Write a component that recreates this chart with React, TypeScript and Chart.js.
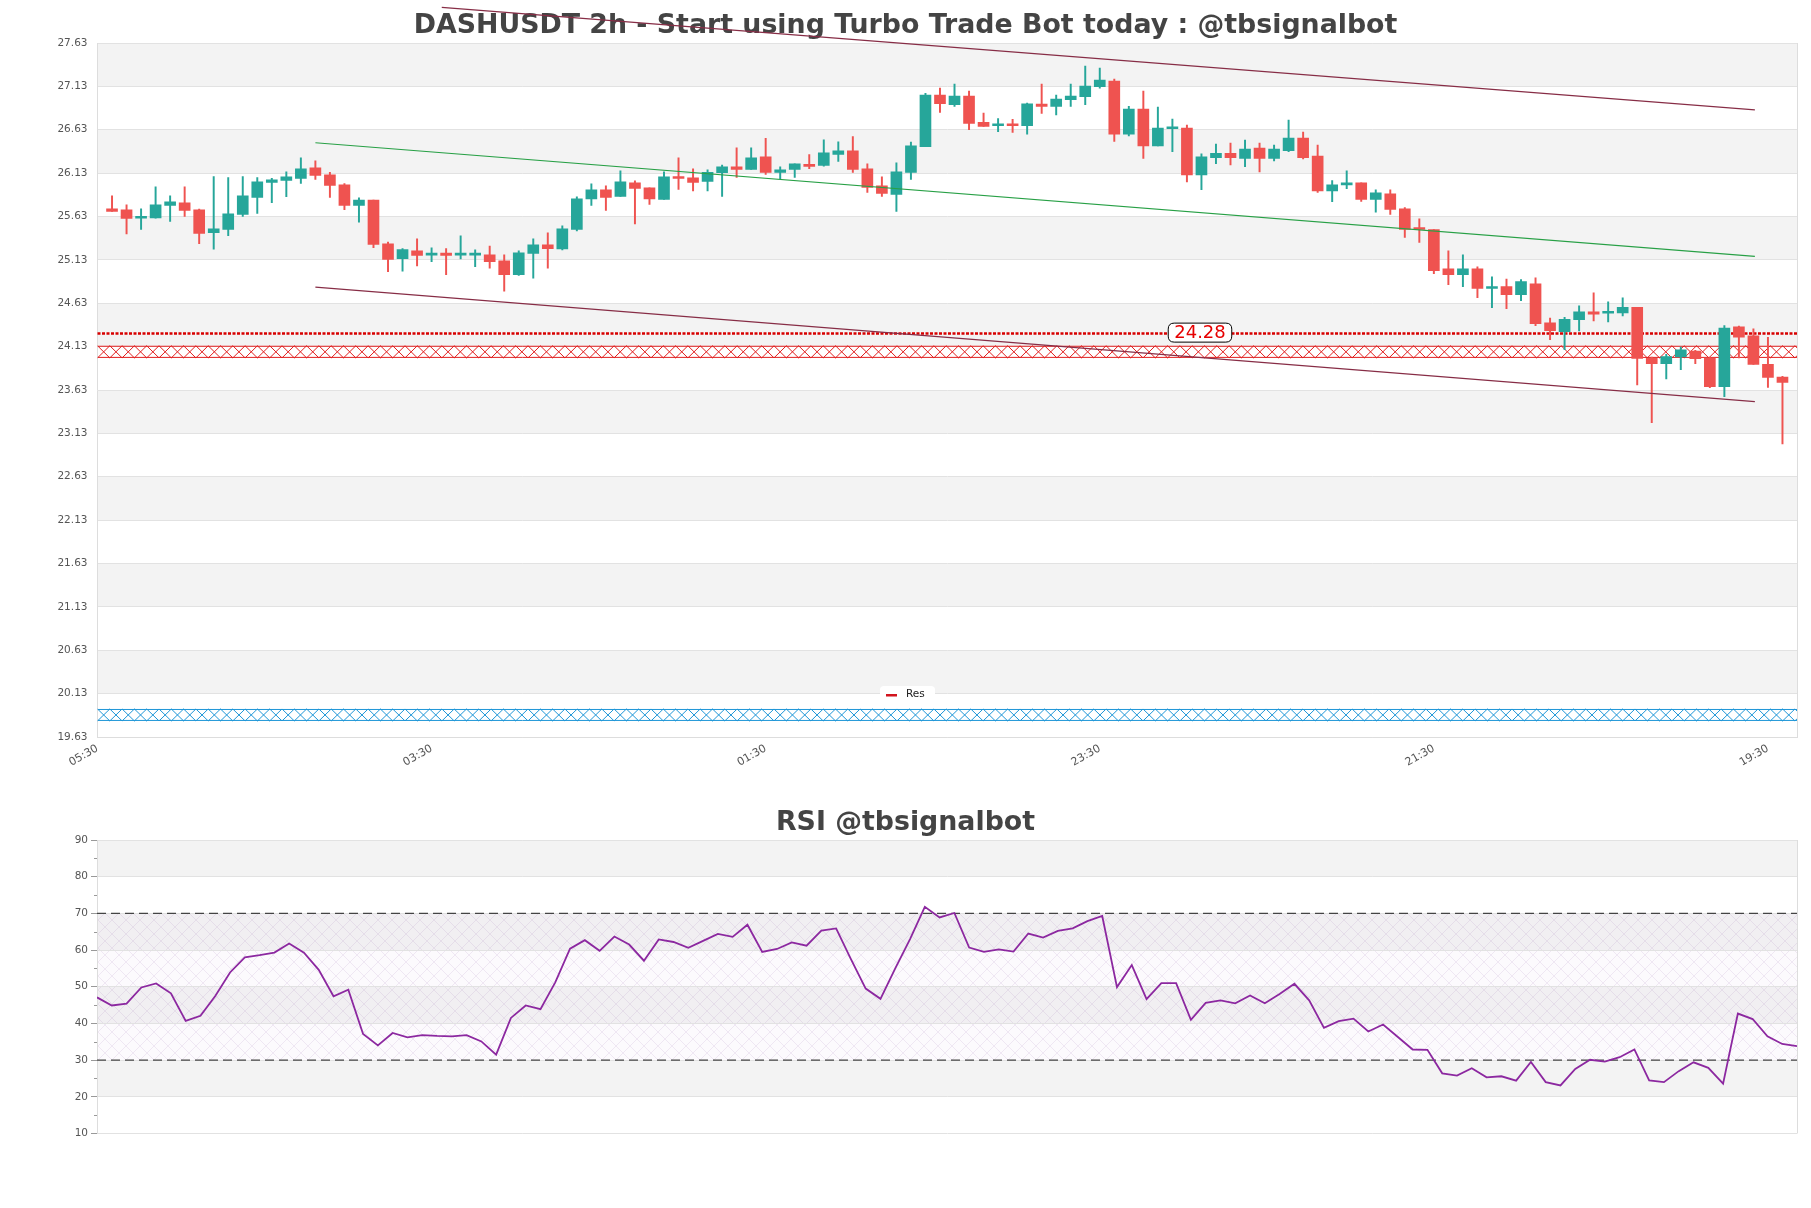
import React, { useEffect, useRef } from "react";
import { Chart, registerables } from "chart.js";

Chart.register(...registerables);

// ---------------- DATA ----------------
const chartTitle = "DASHUSDT 2h - Start using Turbo Trade Bot today : @tbsignalbot";
const rsiTitle = "RSI @tbsignalbot";

const xTickIndices = [0, 23, 46, 69, 92, 115];
const xTickLabels = ["05:30", "03:30", "01:30", "23:30", "21:30", "19:30"];

const yTickValues = [19.63, 20.13, 20.63, 21.13, 21.63, 22.13, 22.63, 23.13, 23.63, 24.13, 24.63, 25.13, 25.63, 26.13, 26.63, 27.13, 27.63];
const rsiTickValues = [10, 20, 30, 40, 50, 60, 70, 80, 90];

const opens = [
  25.718, 25.707, 25.61, 25.615, 25.757, 25.788, 25.707, 25.445, 25.48, 25.653,
  25.849, 26.022, 26.045, 26.068, 26.19, 26.11, 25.995, 25.757, 25.82, 25.315,
  25.145, 25.234, 25.184, 25.207, 25.184, 25.184, 25.188, 25.118, 24.96, 25.203,
  25.303, 25.257, 25.48, 25.834, 25.938, 25.861, 26.018, 25.96, 25.826, 26.088,
  26.076, 26.034, 26.134, 26.203, 26.172, 26.318, 26.138, 26.172, 26.226, 26.218,
  26.345, 26.388, 26.18, 25.984, 25.884, 26.138, 26.434, 27.03, 26.918, 27.018,
  26.715, 26.676, 26.692, 26.676, 26.926, 26.9, 26.976, 27.01, 27.126, 27.19,
  26.58, 26.868, 26.445, 26.642, 26.65, 26.11, 26.307, 26.357, 26.3, 26.418,
  26.3, 26.388, 26.534, 26.326, 25.926, 25.995, 26.018, 25.826, 25.892, 25.718,
  25.499, 25.48, 25.026, 24.96, 25.026, 24.8, 24.822, 24.73, 24.853, 24.403,
  24.303, 24.442, 24.53, 24.515, 24.518, 24.584, 23.995, 23.934, 24.011, 24.08,
  23.999, 23.668, 24.357, 24.253, 23.926, 23.78,
];
const highs = [
  25.868, 25.765, 25.718, 25.972, 25.868, 25.972, 25.715, 26.09, 26.08, 26.09,
  26.08, 26.07, 26.145, 26.307, 26.272, 26.14, 26.01, 25.845, 25.82, 25.334,
  25.26, 25.372, 25.268, 25.26, 25.407, 25.245, 25.288, 25.188, 25.234, 25.372,
  25.442, 25.522, 25.857, 26.007, 25.984, 26.157, 26.042, 25.96, 26.145, 26.307,
  26.18, 26.168, 26.222, 26.422, 26.422, 26.53, 26.203, 26.238, 26.345, 26.515,
  26.49, 26.55, 26.238, 26.088, 26.25, 26.488, 27.049, 27.11, 27.157, 27.076,
  26.822, 26.76, 26.749, 26.938, 27.157, 27.03, 27.157, 27.365, 27.34, 27.215,
  26.9, 27.076, 26.892, 26.753, 26.684, 26.353, 26.465, 26.476, 26.51, 26.476,
  26.453, 26.742, 26.603, 26.453, 26.045, 26.157, 26.018, 25.938, 25.938, 25.734,
  25.603, 25.48, 25.234, 25.188, 25.049, 24.934, 24.91, 24.903, 24.922, 24.46,
  24.468, 24.6, 24.749, 24.645, 24.692, 24.584, 24.01, 24.042, 24.126, 24.088,
  24.003, 24.372, 24.368, 24.334, 24.238, 23.788,
];
const lows = [
  25.688, 25.43, 25.48, 25.61, 25.572, 25.63, 25.318, 25.253, 25.41, 25.63,
  25.665, 25.79, 25.86, 26.01, 26.057, 25.85, 25.71, 25.565, 25.272, 24.995,
  25.0, 25.06, 25.11, 24.96, 25.14, 25.053, 25.034, 24.768, 24.95, 24.92,
  25.034, 25.245, 25.465, 25.757, 25.7, 25.861, 25.545, 25.768, 25.826, 25.942,
  25.926, 25.926, 25.861, 26.08, 26.172, 26.115, 26.065, 26.08, 26.18, 26.21,
  26.265, 26.138, 25.907, 25.861, 25.688, 26.057, 26.434, 26.83, 26.9, 26.63,
  26.668, 26.607, 26.6, 26.58, 26.818, 26.8, 26.9, 26.918, 27.11, 26.495,
  26.56, 26.3, 26.445, 26.376, 26.03, 25.938, 26.238, 26.226, 26.203, 26.145,
  26.272, 26.376, 26.295, 25.907, 25.8, 25.95, 25.803, 25.68, 25.653, 25.388,
  25.33, 24.972, 24.845, 24.822, 24.695, 24.58, 24.568, 24.66, 24.372, 24.21,
  24.095, 24.31, 24.426, 24.415, 24.484, 23.688, 23.253, 23.757, 23.865, 23.934,
  23.657, 23.553, 23.999, 23.926, 23.661, 23.008,
];
const closes = [
  25.688, 25.607, 25.626, 25.765, 25.8, 25.699, 25.434, 25.488, 25.66, 25.868,
  26.03, 26.053, 26.088, 26.18, 26.103, 25.988, 25.757, 25.82, 25.307, 25.134,
  25.249, 25.18, 25.2, 25.18, 25.19, 25.19, 25.11, 24.96, 25.21, 25.303,
  25.26, 25.488, 25.834, 25.938, 25.85, 26.03, 25.953, 25.834, 26.088, 26.068,
  26.022, 26.14, 26.203, 26.172, 26.307, 26.138, 26.168, 26.238, 26.207, 26.365,
  26.388, 26.172, 25.965, 25.895, 26.145, 26.445, 27.03, 26.93, 27.018, 26.703,
  26.668, 26.692, 26.676, 26.93, 26.9, 26.984, 27.018, 27.134, 27.203, 26.58,
  26.868, 26.445, 26.65, 26.65, 26.11, 26.318, 26.357, 26.307, 26.407, 26.3,
  26.407, 26.534, 26.307, 25.926, 25.995, 26.018, 25.826, 25.903, 25.711, 25.48,
  25.48, 25.007, 24.96, 25.026, 24.8, 24.818, 24.73, 24.88, 24.396, 24.315,
  24.445, 24.53, 24.503, 24.53, 24.584, 23.995, 23.934, 24.015, 24.092, 23.992,
  23.668, 24.345, 24.238, 23.926, 23.776, 23.718,
];

const rsiValues = [
  47.1, 44.9, 45.4, 49.8, 50.9, 48.2, 40.7, 42.1, 47.5, 53.9,
  58.0, 58.6, 59.3, 61.8, 59.3, 54.6, 47.4, 49.2, 37.1, 34.0,
  37.4, 36.2, 36.8, 36.6, 36.5, 36.8, 35.1, 31.5, 41.5, 44.9,
  43.9, 51.2, 60.4, 62.7, 59.8, 63.7, 61.5, 57.1, 62.9, 62.2,
  60.6, 62.5, 64.4, 63.6, 66.9, 59.5, 60.3, 62.1, 61.2, 65.3,
  65.9, 57.5, 49.5, 46.7, 55.0, 63.0, 71.8, 68.9, 70.1, 60.7,
  59.5, 60.2, 59.6, 64.5, 63.4, 65.2, 65.9, 67.9, 69.3, 49.9,
  55.9, 46.6, 51.0, 51.0, 41.0, 45.6, 46.3, 45.5, 47.6, 45.5,
  48.0, 50.8, 46.3, 38.8, 40.6, 41.3, 37.8, 39.7, 36.3, 32.9,
  32.8, 26.4, 25.8, 27.8, 25.3, 25.6, 24.4, 29.5, 24.0, 23.1,
  27.6, 30.1, 29.6, 30.8, 32.9, 24.5, 24.0, 27.0, 29.4, 27.9,
  23.6, 42.7, 41.2, 36.5, 34.4, 33.8,
];

const resistanceLevel = 24.28;
const resistanceZone = [24.0, 24.14];
const supportZone = [19.815, 19.953];
const upperChannel = [{ x: 23.7, y: 28.04 }, { x: 114.1, y: 26.86 }];
const midChannel = [{ x: 15.0, y: 26.48 }, { x: 114.1, y: 25.17 }];
const lowerChannel = [{ x: 15.0, y: 24.817 }, { x: 114.1, y: 23.495 }];
const legendLabel = "Res";

// ---------------- STYLE ----------------
const GREEN = "#26a69a";
const RED = "#ef5350";
const BAND = "#f3f3f3";
const GRID = "#e2e2e2";
const FONT = '"DejaVu Sans"';

Chart.defaults.font.family = FONT;

function drawZone(ctx: CanvasRenderingContext2D, left: number, right: number, yTop: number, yBot: number, color: string) {
  ctx.save();
  ctx.beginPath();
  ctx.rect(left, yTop - 1, right - left, yBot - yTop + 2);
  ctx.clip();
  ctx.strokeStyle = color;
  ctx.lineWidth = 1;
  ctx.beginPath();
  ctx.moveTo(left, yTop + 0.5);
  ctx.lineTo(right, yTop + 0.5);
  ctx.moveTo(left, yBot - 0.5);
  ctx.lineTo(right, yBot - 0.5);
  const w = 12.3;
  for (let x = left; x < right; x += w) {
    ctx.moveTo(x, yTop);
    ctx.lineTo(x + w, yBot);
    ctx.moveTo(x, yBot);
    ctx.lineTo(x + w, yTop);
  }
  ctx.stroke();
  ctx.restore();
}

function roundRect(ctx: CanvasRenderingContext2D, x: number, y: number, w: number, h: number, r: number) {
  ctx.beginPath();
  ctx.moveTo(x + r, y);
  ctx.lineTo(x + w - r, y);
  ctx.quadraticCurveTo(x + w, y, x + w, y + r);
  ctx.lineTo(x + w, y + h - r);
  ctx.quadraticCurveTo(x + w, y + h, x + w - r, y + h);
  ctx.lineTo(x + r, y + h);
  ctx.quadraticCurveTo(x, y + h, x, y + h - r);
  ctx.lineTo(x, y + r);
  ctx.quadraticCurveTo(x, y, x + r, y);
  ctx.closePath();
}

const mainDecor = {
  id: "mainDecor",
  beforeDraw(chart: any) {
    const { ctx, chartArea: a } = chart;
    const y = chart.scales.y;
    ctx.save();
    ctx.fillStyle = "#ffffff";
    ctx.fillRect(0, 0, chart.width, chart.height);
    for (let i = 0; i < yTickValues.length - 1; i++) {
      if (i % 2 === 1) {
        const top = y.getPixelForValue(yTickValues[i + 1]);
        const bot = y.getPixelForValue(yTickValues[i]);
        ctx.fillStyle = BAND;
        ctx.fillRect(a.left, top, a.right - a.left, bot - top);
      }
    }
    ctx.font = `bold 26.8px ${FONT}`;
    ctx.fillStyle = "#444444";
    ctx.textAlign = "center";
    ctx.textBaseline = "alphabetic";
    ctx.fillText(chartTitle, chart.width / 2, 32.5);
    ctx.restore();
  },
  beforeDatasetsDraw(chart: any) {
    const { ctx, chartArea: a } = chart;
    const y = chart.scales.y;
    ctx.save();
    ctx.strokeStyle = "#dddddd";
    ctx.lineWidth = 1;
    ctx.beginPath();
    ctx.moveTo(a.right + 0.5, a.top);
    ctx.lineTo(a.right + 0.5, a.bottom);
    ctx.stroke();
    drawZone(ctx, a.left, a.right, y.getPixelForValue(resistanceZone[1]), y.getPixelForValue(resistanceZone[0]), "rgb(225,30,30)");
    drawZone(ctx, a.left, a.right, y.getPixelForValue(supportZone[1]), y.getPixelForValue(supportZone[0]), "rgb(30,150,215)");
    const ry = y.getPixelForValue(resistanceLevel);
    ctx.strokeStyle = "rgb(215,0,0)";
    ctx.lineWidth = 2.5;
    ctx.setLineDash([3, 1.5]);
    ctx.beginPath();
    ctx.moveTo(a.left, ry);
    ctx.lineTo(a.right, ry);
    ctx.stroke();
    ctx.restore();
  },
  afterDatasetsDraw(chart: any) {
    const { ctx } = chart;
    const y = chart.scales.y;
    const x = chart.scales.x;
    ctx.save();
    const ry = y.getPixelForValue(resistanceLevel);
    const cx = x.getPixelForValue(75.9);
    const txt = resistanceLevel.toFixed(2);
    ctx.font = `18px ${FONT}`;
    const tw = ctx.measureText(txt).width;
    const bw = tw + 12;
    const bh = 19;
    roundRect(ctx, cx - bw / 2, ry - bh / 2 - 1, bw, bh, 6);
    ctx.fillStyle = "#ffffff";
    ctx.fill();
    ctx.strokeStyle = "#000000";
    ctx.lineWidth = 1;
    ctx.stroke();
    ctx.fillStyle = "rgb(230,0,0)";
    ctx.textAlign = "center";
    ctx.textBaseline = "middle";
    ctx.fillText(txt, cx, ry);
    const lx = 880, ly = 686;
    roundRect(ctx, lx, ly, 55, 16, 4);
    ctx.fillStyle = "#ffffff";
    ctx.fill();
    ctx.fillStyle = "rgb(210,20,30)";
    ctx.fillRect(lx + 6, ly + 8, 11, 2.5);
    ctx.font = `10.5px ${FONT}`;
    ctx.fillStyle = "#222222";
    ctx.textAlign = "left";
    ctx.textBaseline = "middle";
    ctx.fillText(legendLabel, lx + 26, ly + 8.5);
    ctx.restore();
  },
};

function makeHatch(): CanvasPattern | string {
  const c = document.createElement("canvas");
  c.width = 14;
  c.height = 14;
  const g = c.getContext("2d");
  if (!g) return "rgba(200,180,220,0.1)";
  g.fillStyle = "rgba(215,190,225,0.08)";
  g.fillRect(0, 0, 14, 14);
  g.strokeStyle = "rgba(160,120,180,0.2)";
  g.lineWidth = 0.7;
  g.beginPath();
  g.moveTo(0, 0);
  g.lineTo(14, 14);
  g.moveTo(14, 0);
  g.lineTo(0, 14);
  g.stroke();
  const p = g.createPattern(c, "repeat");
  return p || "rgba(200,180,220,0.1)";
}

const rsiDecor = {
  id: "rsiDecor",
  beforeDraw(chart: any) {
    const { ctx, chartArea: a } = chart;
    const y = chart.scales.y;
    ctx.save();
    ctx.fillStyle = "#ffffff";
    ctx.fillRect(0, 0, chart.width, chart.height);
    for (let i = 0; i < rsiTickValues.length - 1; i++) {
      if (i % 2 === 1) {
        const top = y.getPixelForValue(rsiTickValues[i + 1]);
        const bot = y.getPixelForValue(rsiTickValues[i]);
        ctx.fillStyle = BAND;
        ctx.fillRect(a.left, top, a.right - a.left, bot - top);
      }
    }
    const t70 = y.getPixelForValue(70);
    const t30 = y.getPixelForValue(30);
    ctx.fillStyle = makeHatch() as any;
    ctx.fillRect(a.left, t70, a.right - a.left, t30 - t70);
    ctx.font = `bold 26.8px ${FONT}`;
    ctx.fillStyle = "#444444";
    ctx.textAlign = "center";
    ctx.textBaseline = "alphabetic";
    ctx.fillText(rsiTitle, chart.width / 2, 49.5);
    ctx.restore();
  },
  beforeDatasetsDraw(chart: any) {
    const { ctx, chartArea: a } = chart;
    const y = chart.scales.y;
    ctx.save();
    ctx.strokeStyle = "#dddddd";
    ctx.lineWidth = 1;
    ctx.beginPath();
    ctx.moveTo(a.right + 0.5, a.top);
    ctx.lineTo(a.right + 0.5, a.bottom);
    ctx.stroke();
    ctx.strokeStyle = "#999999";
    ctx.beginPath();
    for (let i = 0; i < rsiTickValues.length - 1; i++) {
      const v = (rsiTickValues[i] + rsiTickValues[i + 1]) / 2;
      const py = Math.round(y.getPixelForValue(v)) + 0.5;
      ctx.moveTo(a.left - 3, py);
      ctx.lineTo(a.left, py);
    }
    ctx.stroke();
    ctx.strokeStyle = "#444444";
    ctx.lineWidth = 1.3;
    ctx.setLineDash([9, 5]);
    [70, 30].forEach((v) => {
      const py = y.getPixelForValue(v);
      ctx.beginPath();
      ctx.moveTo(a.left, py);
      ctx.lineTo(a.right, py);
      ctx.stroke();
    });
    ctx.restore();
  },
};

export default function App() {
  const mainRef = useRef<HTMLCanvasElement>(null);
  const rsiRef = useRef<HTMLCanvasElement>(null);

  useEffect(() => {
    const bodyColors = opens.map((o, i) => (closes[i] >= o ? GREEN : RED));
    const bodyData = opens.map((o, i) => ({ x: i + 1, y: [o, closes[i]] }));
    const wickData = opens.map((_, i) => ({ x: i + 1, y: [lows[i], highs[i]] }));

    const main = new Chart(mainRef.current as HTMLCanvasElement, {
      type: "bar",
      data: {
        datasets: [
          { type: "line", data: upperChannel, borderColor: "rgb(135,45,70)", borderWidth: 1.2, pointRadius: 0, clip: false as any, order: 0 } as any,
          { type: "line", data: midChannel, borderColor: "rgb(40,160,70)", borderWidth: 1.2, pointRadius: 0, order: 0 } as any,
          { type: "line", data: lowerChannel, borderColor: "rgb(135,45,70)", borderWidth: 1.2, pointRadius: 0, order: 0 } as any,
          { type: "bar", data: wickData as any, backgroundColor: bodyColors, barThickness: 1.3, grouped: false, order: 2 } as any,
          { type: "bar", data: bodyData as any, backgroundColor: bodyColors, barThickness: 11, grouped: false, minBarLength: 2, order: 1 } as any,
        ],
      },
      options: {
        responsive: false,
        animation: false,
        events: [],
        layout: { padding: { top: 43, right: 14, bottom: 0, left: 0 } },
        plugins: { legend: { display: false }, title: { display: false }, tooltip: { enabled: false } },
        scales: {
          x: {
            type: "linear",
            min: 0,
            max: 117,
            offset: false,
            grid: { display: false, drawTicks: false },
            border: { display: true, color: "#dddddd" },
            afterBuildTicks: (s: any) => {
              s.ticks = xTickIndices.map((v) => ({ value: v }));
            },
            afterFit: (s: any) => {
              s.height = 43;
            },
            ticks: {
              autoSkip: false,
              minRotation: 30,
              maxRotation: 30,
              padding: 5,
              color: "#555555",
              font: { size: 11, family: FONT },
              callback: (v: any) => {
                const k = xTickIndices.indexOf(Number(v));
                return k >= 0 ? xTickLabels[k] : "";
              },
            },
          },
          y: {
            type: "linear",
            min: 19.63,
            max: 27.63,
            grid: { color: GRID, drawTicks: false },
            border: { display: true, color: "#dddddd" },
            afterBuildTicks: (s: any) => {
              s.ticks = yTickValues.map((v) => ({ value: v }));
            },
            afterFit: (s: any) => {
              s.width = 97.5;
            },
            ticks: {
              autoSkip: false,
              padding: 10,
              color: "#555555",
              font: { size: 10.5, family: FONT },
              callback: (v: any) => Number(v).toFixed(2),
            },
          },
        },
      } as any,
      plugins: [mainDecor],
    });

    const rsi = new Chart(rsiRef.current as HTMLCanvasElement, {
      type: "line",
      data: {
        datasets: [
          {
            data: rsiValues.map((v, i) => ({ x: i, y: v })),
            borderColor: "rgb(140,40,160)",
            borderWidth: 1.8,
            pointRadius: 0,
            tension: 0,
          } as any,
        ],
      },
      options: {
        responsive: false,
        animation: false,
        events: [],
        layout: { padding: { top: 60, right: 14, bottom: 74.5, left: 0 } },
        plugins: { legend: { display: false }, title: { display: false }, tooltip: { enabled: false } },
        scales: {
          x: { type: "linear", min: 0, max: rsiValues.length - 1, display: false },
          y: {
            type: "linear",
            min: 10,
            max: 90,
            grid: { color: GRID, drawTicks: true, tickLength: 6, tickColor: "#999999" },
            border: { display: true, color: "#dddddd" },
            afterBuildTicks: (s: any) => {
              s.ticks = rsiTickValues.map((v) => ({ value: v }));
            },
            afterFit: (s: any) => {
              s.width = 97;
            },
            ticks: { padding: 3, color: "#555555", font: { size: 10.5, family: FONT } },
          },
        },
      } as any,
      plugins: [rsiDecor],
    });

    return () => {
      main.destroy();
      rsi.destroy();
    };
  }, []);

  return (
    <div style={{ position: "absolute", left: 0, top: 0, width: 1811, height: 1208, background: "#ffffff" }}>
      <canvas ref={mainRef} width={1811} height={780} style={{ position: "absolute", left: 0, top: 0, width: 1811, height: 780 }} />
      <canvas ref={rsiRef} width={1811} height={428} style={{ position: "absolute", left: 0, top: 780, width: 1811, height: 428 }} />
    </div>
  );
}
